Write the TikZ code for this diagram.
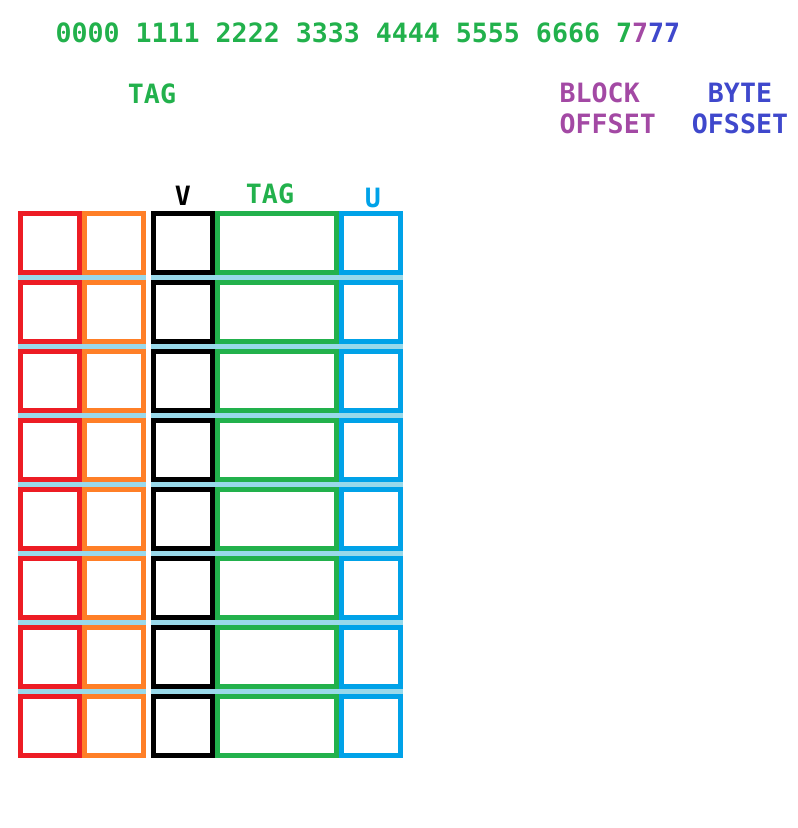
\documentclass[tikz,border=0pt]{standalone}
\usepackage{fontspec}
\setmonofont{DejaVu Sans Mono}
\usetikzlibrary{positioning}

\definecolor{cred}{RGB}{237,28,36}
\definecolor{corange}{RGB}{255,127,39}
\definecolor{cgreen}{RGB}{34,177,76}
\definecolor{cblue}{RGB}{0,162,232}
\definecolor{cpurple}{RGB}{163,73,164}
\definecolor{cindigo}{RGB}{63,72,204}
\definecolor{cstripe}{RGB}{153,217,234}

\tikzset{
  cell/.style={draw, line width=5pt, minimum height=59pt, inner sep=0pt},
  lbl/.style={font=\ttfamily\bfseries\fontsize{26.6}{31}\selectfont, inner sep=0pt}
}

\begin{document}
\begin{tikzpicture}[x=1pt, y=-1pt]
\useasboundingbox (0,0) rectangle (798,828);

% address bits
\node[lbl, anchor=north west] (bits) at (55.4,23) {{\color{cgreen}0000 1111 2222 3333 4444 5555 6666 7}{\color{cpurple}7}{\color{cindigo}77}};
\node[lbl, text=cgreen, anchor=north] (tagtop) at (152,84) {TAG};
\node[lbl, text=cpurple, anchor=north west, align=left] (blockoff) at (559.5,83) {BLOCK\\OFFSET};
\node[lbl, text=cindigo, anchor=north, align=center] (byteoff) at (740,83) {BYTE\\OFSSET};

% cache lines
\foreach \i in {0,...,7} {
  \node[cell, draw=cred, minimum width=59pt] (red\i) at (50, {243+69*\i}) {};
  \node[cell, draw=corange, minimum width=59pt, right=0pt of red\i] (orange\i) {};
  \node[cell, draw=black, minimum width=59pt, right=5pt of orange\i] (black\i) {};
  \node[cell, draw=cgreen, minimum width=119pt, right=0pt of black\i] (green\i) {};
  \node[cell, draw=cblue, minimum width=59pt, right=0pt of green\i] (blue\i) {};
}
\foreach \i [evaluate=\i as \j using int(\i+1)] in {0,...,6} {
  \fill[cstripe] (red\i.south west) rectangle (orange\j.north east);
  \fill[cstripe] (black\i.south west) rectangle (blue\j.north east);
}

\node[lbl, above=5pt of black0] (vlbl) {V};
\node[lbl, text=cgreen, above=7pt of green0, xshift=-7pt] (taglbl) {TAG};
\node[lbl, text=cblue, above=3pt of blue0, xshift=2pt] (ulbl) {U};

\end{tikzpicture}
\end{document}
